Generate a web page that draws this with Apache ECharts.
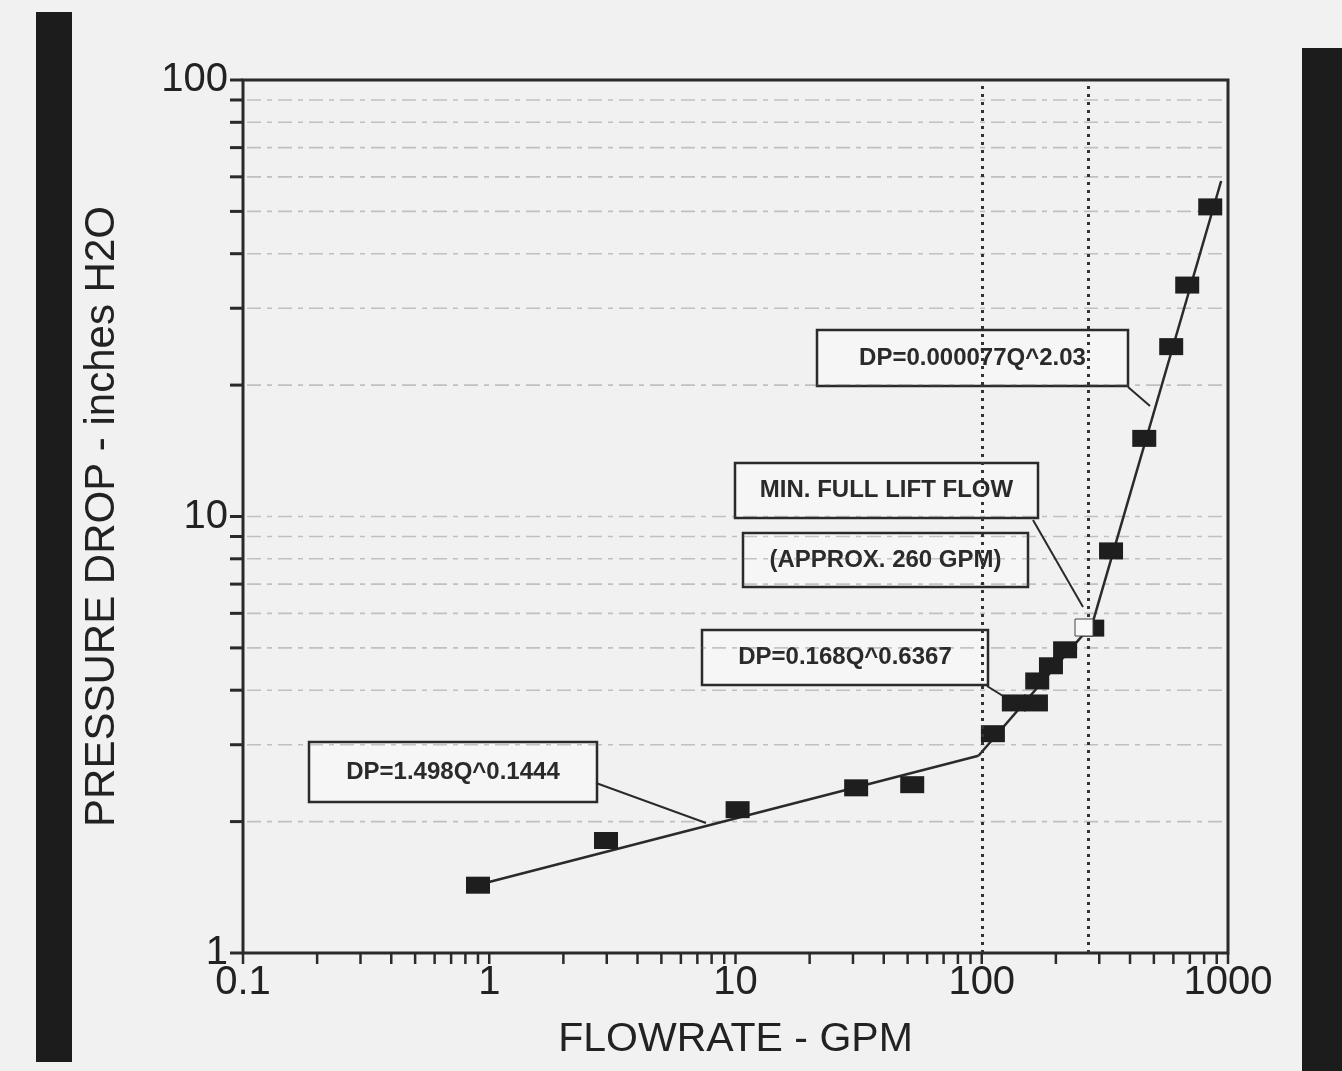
<!DOCTYPE html>
<html>
<head>
<meta charset="utf-8">
<title>Pressure drop vs flowrate</title>
<script src="https://cdn.jsdelivr.net/npm/echarts@6/dist/echarts.min.js"></script>
<style>
  html, body { margin: 0; padding: 0; background: #f1f1f1; }
  #chart { width: 1342px; height: 1071px; }
</style>
</head>
<body>
<div id="chart"></div>
<script>
// test points
const flowGpm = [0.90, 2.98, 10.2, 30.9, 52.2, 111, 135, 166, 168, 191, 218, 281, 335, 457, 588, 683, 847];
const dpInH2O = [1.43, 1.81, 2.13, 2.39, 2.43, 3.18, 3.74, 3.74, 4.20, 4.55, 4.95, 5.55, 8.34, 15.1, 24.5, 33.9, 51.2];

// curve fit segments (end points)
const fitLow = [[0.98, 1.45], [97, 2.83]];
const fitMid = [[97, 2.83], [281, 5.67]];
const fitHigh = [[281, 5.67], [938, 58.7]];

// dotted reference lines: 100 gpm and min. full lift flow
const refFlows = [100, 270];

// tick values / labels
const xTickValues = [0.1, 0.2, 0.3, 0.4, 0.5, 0.6, 0.7, 0.8, 0.9, 1, 2, 3, 4, 5, 6, 7, 8, 9, 10,
  20, 30, 40, 50, 60, 70, 80, 90, 100, 200, 300, 400, 500, 600, 700, 800, 900, 1000];
const yTickValues = [1, 2, 3, 4, 5, 6, 7, 8, 9, 10, 20, 30, 40, 50, 60, 70, 80, 90, 100];
const xLabels = ['0.1', '1', '10', '100', '1000'];
const yLabels = ['1', '10', '100'];

const noteTexts = ['DP=0.000077Q^2.03', 'MIN. FULL LIFT FLOW', '(APPROX. 260 GPM)', 'DP=0.168Q^0.6367', 'DP=1.498Q^0.1444'];

const FONT = '"Liberation Sans", Arial, sans-serif';
const INK = '#222';

const chart = echarts.init(document.getElementById('chart'));

// annotation boxes layout (pixels)
const noteBoxes = [
  [817, 330, 311, 56],
  [735, 463, 303, 55],
  [743, 533, 285, 54],
  [702, 630, 286, 55],
  [309, 742, 288, 60]
];
const leaders = [
  [1128, 387, 1150, 406],
  [1033, 520, 1083, 607],
  [987, 686, 1003, 696],
  [596, 783, 706, 823]
];

const graphics = [];
// dark scanner edges
graphics.push({ type: 'rect', shape: { x: 36, y: 12, width: 36, height: 1050 }, style: { fill: '#1c1c1c' }, z: 1 });
graphics.push({ type: 'rect', shape: { x: 1302, y: 48, width: 40, height: 1023 }, style: { fill: '#1c1c1c' }, z: 1 });
// little white tag at the full lift point
graphics.push({ type: 'rect', z: 100, shape: { x: 1075, y: 619, width: 18, height: 17 },
  style: { fill: '#f8f8f8', stroke: '#444', lineWidth: 1 } });

noteBoxes.forEach(function (b, i) {
  graphics.push({
    type: 'group',
    z: 100,
    children: [
      { type: 'rect', shape: { x: b[0], y: b[1], width: b[2], height: b[3] },
        style: { fill: '#f6f6f6', stroke: '#2a2a2a', lineWidth: 2.5 } },
      { type: 'text', x: b[0] + b[2] / 2, y: b[1] + b[3] / 2,
        style: { text: noteTexts[i], align: 'center', verticalAlign: 'middle',
          fontSize: 24, fontWeight: 'bold', fontFamily: FONT, fill: '#2a2a2a' } }
    ]
  });
});
leaders.forEach(function (l) {
  graphics.push({ type: 'line', z: 100, shape: { x1: l[0], y1: l[1], x2: l[2], y2: l[3] },
    style: { stroke: '#2a2a2a', lineWidth: 2 } });
});

const option = {
  backgroundColor: '#f1f1f1',
  animation: false,
  grid: {
    left: 243, top: 80, width: 985, height: 873,
    show: true, borderColor: '#2a2a2a', borderWidth: 3, backgroundColor: 'transparent'
  },
  xAxis: {
    type: 'log', logBase: 10, min: 0.1, max: 1000,
    name: 'FLOWRATE - GPM', nameLocation: 'middle', nameGap: 66,
    nameTextStyle: { fontSize: 41, fontFamily: FONT, color: INK },
    axisLine: { show: false }, axisTick: { show: false }, splitLine: { show: false },
    axisLabel: {
      fontSize: 40, fontFamily: FONT, color: INK, margin: 10,
      formatter: function (v) { return xLabels[Math.round(Math.log10(v)) + 1]; }
    }
  },
  yAxis: {
    type: 'log', logBase: 10, min: 1, max: 100,
    name: 'PRESSURE DROP - inches H2O', nameLocation: 'middle', nameGap: 120,
    nameTextStyle: { fontSize: 42, fontFamily: FONT, color: INK },
    axisLine: { show: false }, axisTick: { show: false }, splitLine: { show: false },
    axisLabel: {
      fontSize: 40, fontFamily: FONT, color: INK, margin: 15,
      formatter: function (v) { return yLabels[Math.round(Math.log10(v))]; }
    }
  },
  graphic: graphics,
  series: [
    {
      // horizontal dashed grid + left ticks
      type: 'custom',
      silent: true,
      z: 1,
      data: yTickValues.map(function (v) { return [1, v]; }),
      renderItem: function (params, api) {
        const v = api.value(1);
        const p0 = api.coord([0.1, v]);
        const p1 = api.coord([1000, v]);
        const kids = [{ type: 'line', shape: { x1: p0[0] - 13, y1: p0[1], x2: p0[0], y2: p0[1] },
          style: { stroke: '#2a2a2a', lineWidth: 3 } }];
        if (v > 1 && v < 100) {
          kids.push({ type: 'line', shape: { x1: p0[0] + 4, y1: p0[1], x2: p1[0] - 4, y2: p1[1] },
            style: { stroke: 'rgba(90,90,90,0.32)', lineWidth: 1.6, lineDash: [14, 6, 5, 6] } });
        }
        return { type: 'group', children: kids };
      }
    },
    {
      // bottom ticks
      type: 'custom',
      silent: true,
      z: 1,
      data: xTickValues.map(function (v) { return [v, 1]; }),
      renderItem: function (params, api) {
        const p = api.coord([api.value(0), 1]);
        return { type: 'line', shape: { x1: p[0], y1: p[1], x2: p[0], y2: p[1] + 11 },
          style: { stroke: '#2a2a2a', lineWidth: 2.5 } };
      }
    },
    {
      type: 'line', data: fitLow, showSymbol: false, z: 3,
      lineStyle: { color: '#2a2a2a', width: 2.5 }
    },
    {
      type: 'line', data: fitMid, showSymbol: false, z: 3,
      lineStyle: { color: '#2a2a2a', width: 2.5 }
    },
    {
      type: 'line', data: fitHigh, showSymbol: false, z: 3,
      lineStyle: { color: '#2a2a2a', width: 2.5 }
    },
    {
      type: 'scatter',
      z: 4,
      symbol: 'rect',
      symbolSize: [24, 17],
      itemStyle: { color: '#1e1e1e', opacity: 1 },
      data: flowGpm.map(function (q, i) { return [q, dpInH2O[i]]; }),
      markLine: {
        silent: true,
        symbol: 'none',
        label: { show: false },
        lineStyle: { color: '#333', width: 3, type: [3, 5] },
        data: refFlows.map(function (q) { return { xAxis: q }; })
      }
    }
  ]
};

chart.setOption(option);
</script>
</body>
</html>
